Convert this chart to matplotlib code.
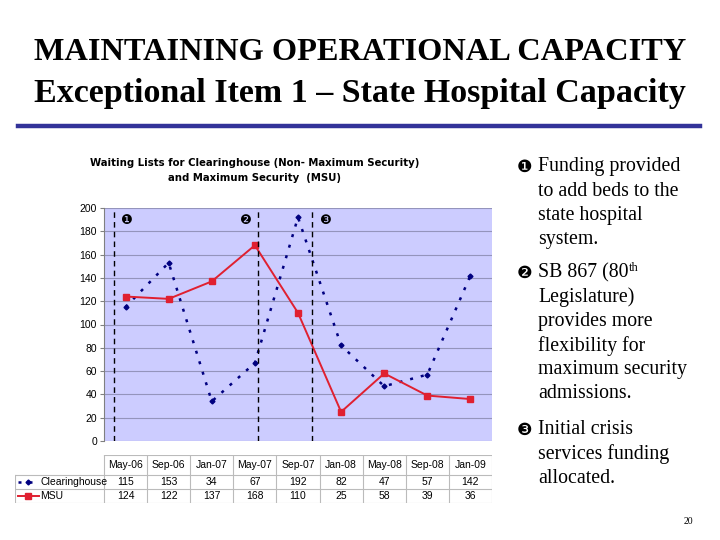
import matplotlib
matplotlib.use("Agg")
from matplotlib import pyplot as plt
from matplotlib.lines import Line2D

# data
months = ["May-06", "Sep-06", "Jan-07", "May-07", "Sep-07", "Jan-08", "May-08", "Sep-08", "Jan-09"]
clearinghouse = [115, 153, 34, 67, 192, 82, 47, 57, 142]
msu = [124, 122, 137, 168, 110, 25, 58, 39, 36]
event_x = [-0.27, 3.07, 4.33]          # dashed event lines (category units)
event_labels = ["\u2776", "\u2777", "\u2778"]
event_label_x = [0.01, 2.79, 4.63]

notes = [
    ["Funding provided", "to add beds to the", "state hospital", "system."],
    ["SB 867 (80", "Legislature)", "provides more", "flexibility for", "maximum security", "admissions."],
    ["Initial crisis", "services funding", "allocated."],
]

W, H = 720, 540
fig = plt.figure(figsize=(7.2, 5.4), dpi=100)
fig.patch.set_facecolor("white")

def fx(px):
    return px / W

def fy(py):
    return 1 - py / H

serif = "Liberation Serif"
sans = "Liberation Sans"

# slide title
fig.text(fx(360), fy(52), "MAINTAINING OPERATIONAL CAPACITY", ha="center", va="center",
         family=serif, weight="bold", fontsize=23.3)
fig.text(fx(360), fy(93), "Exceptional Item 1 \u2013 State Hospital Capacity", ha="center", va="center",
         family=serif, weight="bold", fontsize=24.5)
fig.add_artist(Line2D([fx(18), fx(700)], [fy(126), fy(126)], color="#333399", linewidth=3.2))

# chart
ax = fig.add_axes([fx(104), fy(441), fx(492) - fx(104), fy(208) - fy(441)])
ax.set_facecolor("#CCCCFF")
x = list(range(len(months)))
ax.plot(x, clearinghouse, color="#000080", linestyle=(0, (1.2, 3.2)), linewidth=1.8,
        marker="D", markersize=2.5, zorder=3)
ax.plot(x, msu, color="#E02030", linewidth=1.4, marker="s", markersize=3.8, zorder=4)
for ex in event_x:
    ax.axvline(ex, color="black", linestyle=(0, (4, 3)), linewidth=1, zorder=5)
for lx, lab in zip(event_label_x, event_labels):
    ax.text(lx, 189, lab, ha="center", va="center", fontsize=9.5, family="DejaVu Sans")
ax.set_xlim(-0.5, len(months) - 0.5)
ax.set_ylim(0, 200)
ax.set_yticks(range(0, 201, 20))
ax.set_xticks([])
ax.grid(axis="y", color="#9494BC", linewidth=0.8)
ax.set_axisbelow(True)
for s in ["top", "right", "bottom"]:
    ax.spines[s].set_visible(False)
ax.spines["left"].set_color("#808080")
ax.tick_params(axis="y", length=3, color="#808080", labelsize=7.5, pad=2)
for t in ax.get_yticklabels():
    t.set_family(sans)

fig.text(fx(255), fy(170.5), "Waiting Lists for Clearinghouse (Non- Maximum Security)\nand Maximum Security  (MSU)",
         ha="center", va="center", family="DejaVu Sans", weight="bold", fontsize=7.3, linespacing=1.55)

# data table under the chart
step = (492 - 104) / len(months)
left_u = (15 - 104) / step - 0.5
tax = fig.add_axes([fx(15), fy(503), fx(492) - fx(15), fy(455) - fy(503)])
tax.set_xlim(left_u, len(months) - 0.5)
tax.set_ylim(0, 48)
tax.axis("off")
gc = "#BBBBBB"
# horizontal rules
tax.plot([-0.5, len(months) - 0.5], [48, 48], color=gc, lw=0.8)
for yy in [28, 14, 0]:
    tax.plot([left_u, len(months) - 0.5], [yy, yy], color=gc, lw=0.8)
# vertical rules
for i in range(len(months) + 1):
    tax.plot([i - 0.5, i - 0.5], [0, 48], color=gc, lw=0.8)
tax.plot([left_u, left_u], [0, 28], color=gc, lw=0.8)
for i, m in enumerate(months):
    tax.text(i, 38, m, ha="center", va="center", family=sans, fontsize=7.5)
    tax.text(i, 21, str(clearinghouse[i]), ha="center", va="center", family=sans, fontsize=7.5)
    tax.text(i, 7, str(msu[i]), ha="center", va="center", family=sans, fontsize=7.5)
k0, k1 = left_u + 0.07, left_u + 0.55
tax.plot([k0, k1], [21, 21], color="#000080", linestyle=(0, (1.2, 3.2)), linewidth=1.8)
tax.plot([(k0 + k1) / 2], [21], color="#000080", marker="D", markersize=2.5)
tax.plot([k0, k1], [7, 7], color="#E02030", linewidth=1.4)
tax.plot([(k0 + k1) / 2], [7], color="#E02030", marker="s", markersize=3.8)
tax.text(k1 + 0.03, 21, "Clearinghouse", ha="left", va="center", family=sans, fontsize=7.5)
tax.text(k1 + 0.03, 7, "MSU", ha="left", va="center", family=sans, fontsize=7.5)

# notes on the right
starts = [167, 273, 430]
for lab, lines, y0 in zip(event_labels, notes, starts):
    fig.text(fx(525), fy(y0), lab, ha="center", va="center", family="DejaVu Sans", fontsize=12.5)
    for j, line in enumerate(lines):
        fig.text(fx(538), fy(y0 + 24.2 * j), line, ha="left", va="center", family=serif, fontsize=14.3)

fig.canvas.draw()
r = fig.canvas.get_renderer()
base = [t for t in fig.texts if t.get_text() == "SB 867 (80"][0]
bb = base.get_window_extent(r)
fig.text(bb.x1 / W + 0.001, fy(268), "th", ha="left", va="center", family=serif, fontsize=9)

fig.text(fx(688), fy(521), "20", ha="center", va="center", family=serif, fontsize=7)

fig.savefig("out.png", dpi=100, facecolor="white")
